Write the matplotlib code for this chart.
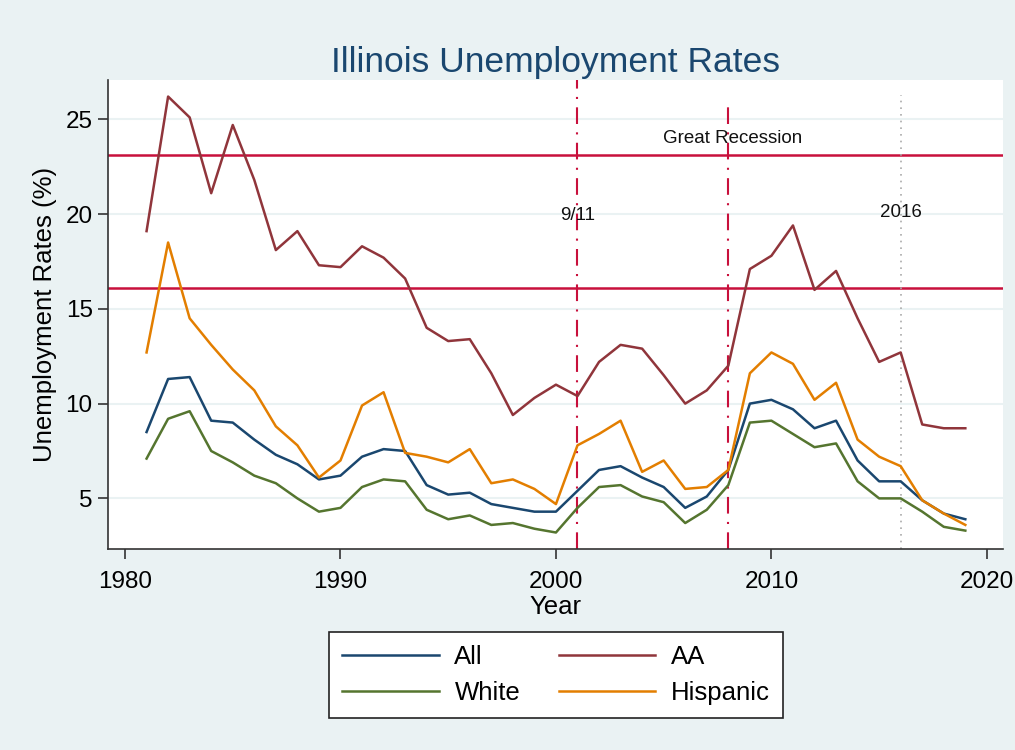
import numpy as np
import matplotlib
matplotlib.use("Agg")
import matplotlib.pyplot as plt

plt.rcParams['font.family'] = ['Liberation Sans', 'DejaVu Sans']

# Illinois unemployment rates by group, 1981-2019
years = list(range(1981, 2020))

all_rate = [8.5, 11.3, 11.4, 9.1, 9.0, 8.1, 7.3, 6.8, 6.0, 6.2,
            7.2, 7.6, 7.5, 5.7, 5.2, 5.3, 4.7, 4.5, 4.3, 4.3,
            5.4, 6.5, 6.7, 6.1, 5.6, 4.5, 5.1, 6.5, 10.0, 10.2,
            9.7, 8.7, 9.1, 7.0, 5.9, 5.9, 4.9, 4.2, 3.9]

aa_rate = [19.1, 26.2, 25.1, 21.1, 24.7, 21.8, 18.1, 19.1, 17.3, 17.2,
           18.3, 17.7, 16.6, 14.0, 13.3, 13.4, 11.6, 9.4, 10.3, 11.0,
           10.4, 12.2, 13.1, 12.9, 11.5, 10.0, 10.7, 12.0, 17.1, 17.8,
           19.4, 16.0, 17.0, 14.5, 12.2, 12.7, 8.9, 8.7, 8.7]

white_rate = [7.1, 9.2, 9.6, 7.5, 6.9, 6.2, 5.8, 5.0, 4.3, 4.5,
              5.6, 6.0, 5.9, 4.4, 3.9, 4.1, 3.6, 3.7, 3.4, 3.2,
              4.5, 5.6, 5.7, 5.1, 4.8, 3.7, 4.4, 5.7, 9.0, 9.1,
              8.4, 7.7, 7.9, 5.9, 5.0, 5.0, 4.3, 3.5, 3.3]

hisp_rate = [12.7, 18.5, 14.5, 13.1, 11.8, 10.7, 8.8, 7.8, 6.1, 7.0,
             9.9, 10.6, 7.4, 7.2, 6.9, 7.6, 5.8, 6.0, 5.5, 4.7,
             7.8, 8.4, 9.1, 6.4, 7.0, 5.5, 5.6, 6.5, 11.6, 12.7,
             12.1, 10.2, 11.1, 8.1, 7.2, 6.7, 4.9, 4.2, 3.6]

# reference lines
hlines = [23.1, 16.1]
events = [2001, 2008, 2016]
event_tops = [27.06, 25.85, 26.3]
notes = ["9/11", "Great Recession", "2016"]
note_x = [2001, 2008.2, 2016]
note_y = [19.9, 24.0, 20.1]

bg = '#eaf2f3'

fig = plt.figure(figsize=(10.15, 7.5), dpi=100, facecolor=bg)
ax = fig.add_axes([0.1064, 0.268, 0.8816, 0.625])
ax.set_facecolor('white')

ax.set_xlim(1979.21, 2020.74)
ax.set_ylim(2.33, 27.06)

ax.set_yticks([5, 10, 15, 20, 25])
ax.set_xticks([1980, 1990, 2000, 2010, 2020])
ax.yaxis.grid(True, color=bg, lw=1.5)
ax.set_axisbelow(True)

for s in ['top', 'right']:
    ax.spines[s].set_visible(False)
for s in ['left', 'bottom']:
    ax.spines[s].set_color('#333333')
    ax.spines[s].set_linewidth(1.2)

ax.tick_params(axis='both', direction='out', length=7, width=1.2,
               color='#333333', labelsize=17.5, pad=4)
ax.tick_params(axis='x', pad=9)

# reference lines
for h in hlines:
    ax.axhline(h, color='#c8103c', lw=1.8, zorder=2)
ax.vlines(events[:2], 2.33, event_tops[:2], colors='#c8103c', lw=1.5,
          linestyles=(0, (8, 4, 1, 4)), zorder=2)
ax.vlines(events[2:], 2.33, event_tops[2:], colors='#aaaaaa', lw=1.2,
          linestyles=(0, (1, 3)), zorder=2)

for t, x, y in zip(notes, note_x, note_y):
    ax.text(x, y, t, ha='center', va='center', fontsize=13.5, color='#111111')

l_all, = ax.plot(years, all_rate, color='#1a476f', lw=1.8, label='All', zorder=3)
l_aa, = ax.plot(years, aa_rate, color='#90353b', lw=1.8, label='AA', zorder=3)
l_wh, = ax.plot(years, white_rate, color='#55752f', lw=1.8, label='White', zorder=3)
l_hi, = ax.plot(years, hisp_rate, color='#e37e00', lw=1.8, label='Hispanic', zorder=3)

ax.set_title('Illinois Unemployment Rates', fontsize=25.5, color='#1a476f', pad=6)
ax.set_ylabel('Unemployment Rates (%)', fontsize=18.5, labelpad=6)
ax.set_xlabel('Year', fontsize=18.5, labelpad=1)

# row-wise order: All, AA / White, Hispanic
leg = ax.legend([l_all, l_wh, l_aa, l_hi], ['All', 'White', 'AA', 'Hispanic'],
                loc='center', bbox_to_anchor=(0.5478, 0.1),
                bbox_transform=fig.transFigure, ncol=2, fontsize=18.5,
                frameon=True, fancybox=False, handlelength=3.75,
                handletextpad=0.62, columnspacing=1.5, labelspacing=0.45,
                borderpad=0.5, framealpha=1)
leg.get_frame().set_facecolor('white')
leg.get_frame().set_edgecolor('#222222')
leg.get_frame().set_linewidth(1.2)

fig.savefig('out.png', dpi=100, facecolor=bg)
